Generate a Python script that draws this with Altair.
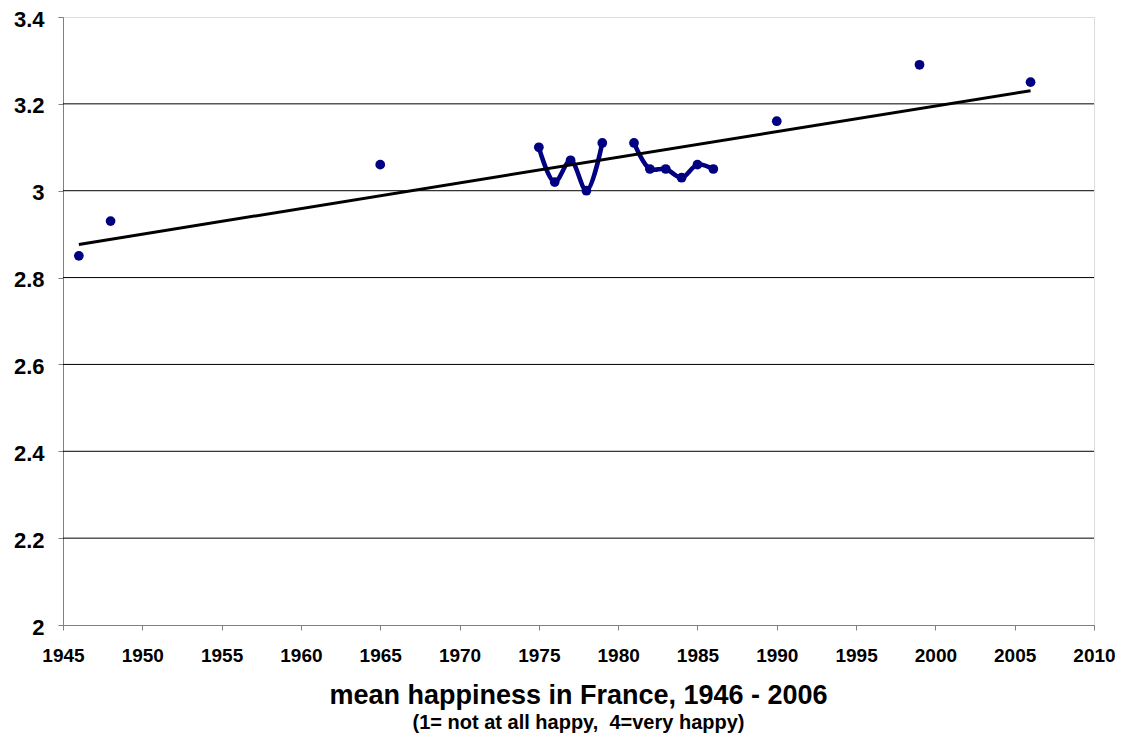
import altair as alt
import pandas as pd

years = [1946, 1948, 1965, 1975, 1976, 1977, 1978, 1979, 1981, 1982, 1983, 1984, 1985, 1986, 1990, 1999, 2006]
values = [2.85, 2.93, 3.06, 3.10, 3.02, 3.07, 3.00, 3.11, 3.11, 3.05, 3.05, 3.03, 3.06, 3.05, 3.16, 3.29, 3.25]
segments = ["", "", "", "a", "a", "a", "a", "a", "b", "b", "b", "b", "b", "b", "", "", ""]
grid_values = [2.2, 2.4, 2.6, 2.8, 3.0, 3.2]
x_ticks = list(range(1945, 2011, 5))
y_ticks = [2.0, 2.2, 2.4, 2.6, 2.8, 3.0, 3.2, 3.4]

df = pd.DataFrame({"year": years, "value": values, "seg": segments})
grid_df = pd.DataFrame({"g": grid_values})

FONT = "Liberation Sans"
NAVY = "#000080"

xs = alt.Scale(domain=[1945, 2010], nice=False, zero=False)
ys = alt.Scale(domain=[2.0, 3.4], nice=False, zero=False)

x_axis = alt.Axis(values=x_ticks, format="d", grid=False, labelFont=FONT, labelFontSize=19,
                  labelFontWeight="bold", labelColor="black", labelPadding=16, tickSize=5,
                  labelOverlap=False, labelFlush=False,
                  tickColor="#808080", domainColor="#808080", title=None)
y_axis = alt.Axis(values=y_ticks, labelExpr="format(datum.value, '~g')", grid=False, labelFont=FONT,
                  labelFontSize=22, labelFontWeight="bold", labelColor="black", labelPadding=14,
                  labelOverlap=False, labelFlush=False, labelOffset=2,
                  tickSize=5, tickColor="#808080", domainColor="#808080", title=None)

grid = alt.Chart(grid_df).mark_rule(color="black", strokeWidth=1).encode(
    y=alt.Y("g:Q", scale=ys, axis=y_axis)
)

lines = alt.Chart(df).transform_filter(alt.datum.seg != "").mark_line(
    color=NAVY, strokeWidth=4.5, interpolate="catmull-rom"
).encode(
    x=alt.X("year:Q", scale=xs, axis=x_axis),
    y=alt.Y("value:Q", scale=ys, axis=y_axis),
    detail="seg:N",
)

points = alt.Chart(df).mark_circle(color=NAVY, size=95, opacity=1).encode(
    x=alt.X("year:Q", scale=xs, axis=x_axis),
    y=alt.Y("value:Q", scale=ys, axis=y_axis),
)

trend = alt.Chart(df).transform_regression("year", "value").mark_line(
    color="black", strokeWidth=3
).encode(
    x=alt.X("year:Q", scale=xs, axis=x_axis),
    y=alt.Y("value:Q", scale=ys, axis=y_axis),
)

chart = alt.layer(grid, lines, points, trend).properties(
    width=1031,
    height=608,
    autosize=alt.AutoSizeParams(type="none"),
    padding={"left": 55, "top": 9, "right": 21, "bottom": 108},
    title=alt.Title(
        "mean happiness in France, 1946 - 2006",
        subtitle="(1= not at all happy,\u00a0 4=very happy)",
        orient="bottom",
        anchor="middle",
        font=FONT,
        fontSize=27,
        fontWeight="bold",
        color="black",
        subtitleFont=FONT,
        subtitleFontSize=20,
        subtitleFontWeight="bold",
        subtitleColor="black",
        subtitlePadding=3,
        offset=18,
    ),
).configure_view(stroke="#808080", strokeWidth=1).configure(background="white")

chart.save("out.html", embed_options={"renderer": "svg", "actions": False})
